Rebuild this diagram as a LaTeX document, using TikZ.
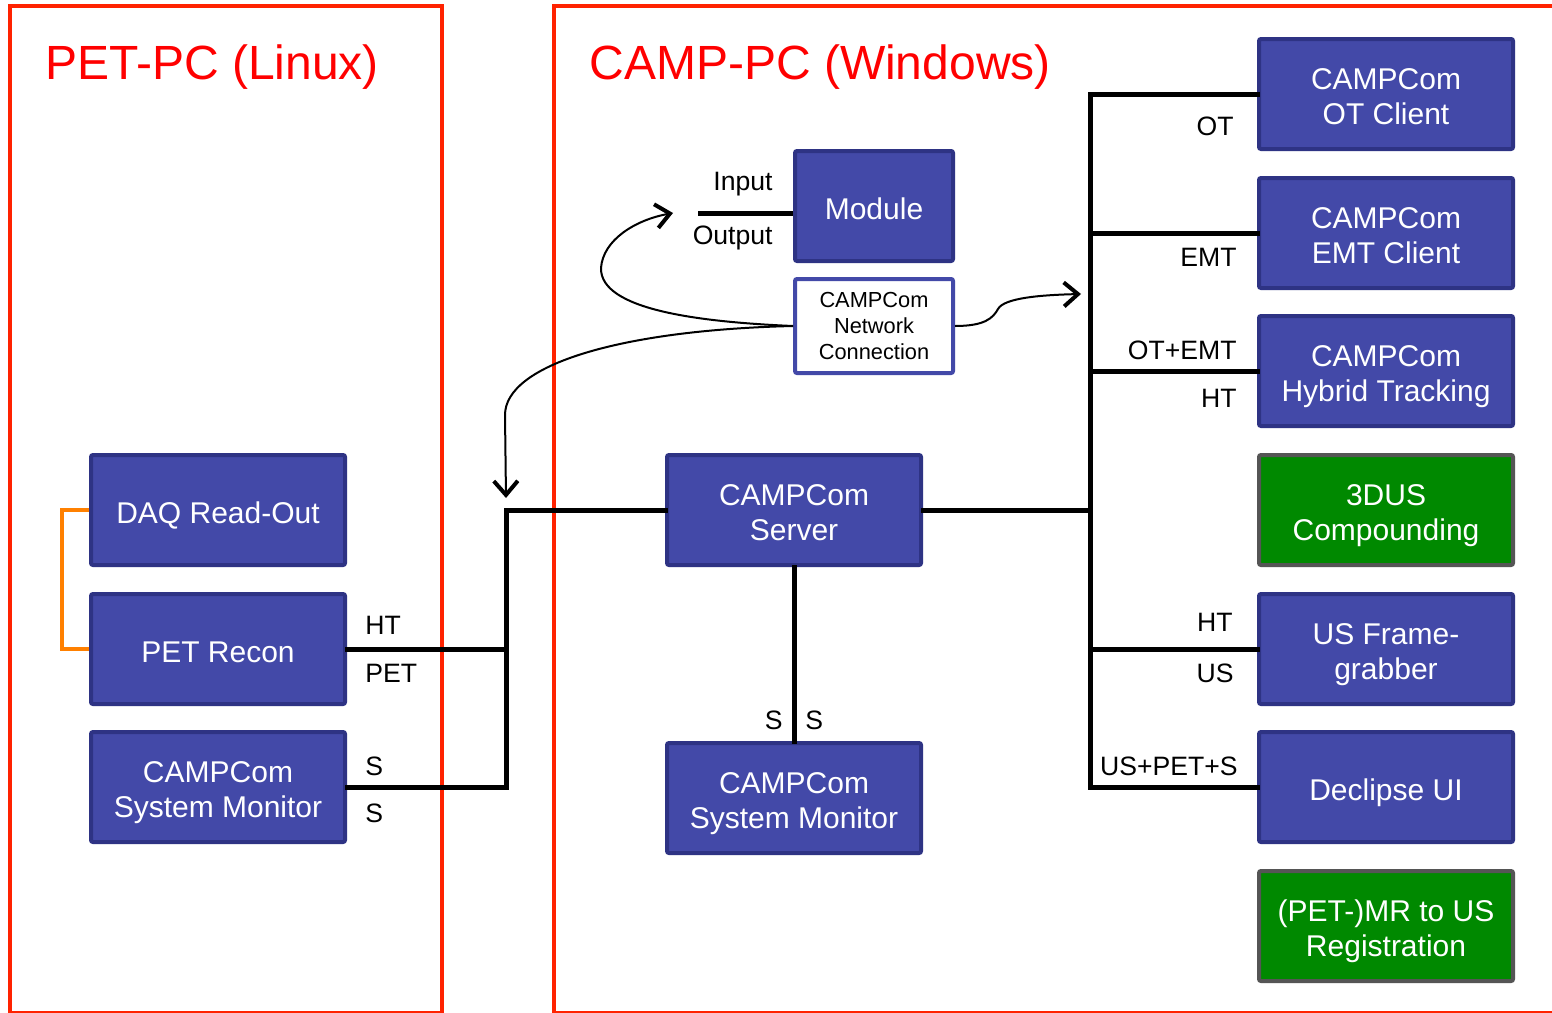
\documentclass[tikz,border=0pt]{standalone}
\usepackage{fontspec}
\setmainfont{Liberation Sans}
\usetikzlibrary{arrows.meta}
\definecolor{boxfill}{RGB}{67,73,168}
\definecolor{boxedge}{RGB}{46,51,132}
\definecolor{grnfill}{RGB}{0,137,0}
\definecolor{grnedge}{RGB}{85,85,85}
\definecolor{framered}{RGB}{255,34,0}
\definecolor{bracket}{RGB}{255,128,0}
\newcommand{\firstln}{\rule{0pt}{12.8pt}}
\tikzset{
  box/.style={draw=boxedge, fill=boxfill, line width=2pt, rounded corners=1pt,
    minimum width=127pt, minimum height=55pt, text=white, align=center, inner sep=0pt,
    font=\fontsize{15}{17.5}\selectfont, text depth=0pt,
    execute at begin node={\rule{0pt}{13pt}}},
  gbox/.style={box, draw=grnedge, fill=grnfill},
  netbox/.style={draw=boxfill, fill=white, line width=2pt, rounded corners=1pt,
    minimum width=79pt, minimum height=47pt, text=black, align=center, inner sep=0pt,
    font=\fontsize{10.9}{13}\selectfont, text depth=0pt,
    execute at begin node={\rule{0pt}{10pt}}},
  frame/.style={draw=framered, line width=2pt},
  bus/.style={line width=2.5pt, line cap=rect},
  lbl/.style={font=\fontsize{13.3}{15}\selectfont, inner sep=0pt},
  title/.style={font=\fontsize{24}{28}\selectfont, text=red, inner sep=0pt, anchor=west},
  curvy/.style={line width=1pt, -{Straight Barb[length=7pt,width=12pt,line width=2pt]}},
}
\begin{document}
\begin{tikzpicture}[x=0.5pt,y=-0.5pt]
\useasboundingbox (0,0) rectangle (1552,1012);
\fill[white] (0,0) rectangle (1552,1012);
% frames
\draw[frame] (10,6) rectangle (442,1013);
\draw[frame] (554,6) rectangle (1600,1013);
\node[title] (t1) at (45,67) {PET-PC (Linux)};
\node[title] (t2) at (589,67) {CAMP-PC (Windows)};

% left nodes
\node[box] (daq) at (218,510) {DAQ Read-Out};
\node[box] (pet) at (218,649) {PET Recon};
\node[box] (smL) at (218,787) {\firstln CAMPCom\\System Monitor};
% middle
\node[box, minimum width=79pt] (mod) at (874,206) {Module};
\node[netbox] (net) at (874,326) {CAMPCom\\Network\\Connection};
\node[box] (srv) at (794,510) {\firstln CAMPCom\\Server};
\node[box] (smM) at (794,798) {\firstln CAMPCom\\System Monitor};
% right
\node[box] (ot) at (1386,94) {\firstln CAMPCom\\OT Client};
\node[box] (emt) at (1386,233) {\firstln CAMPCom\\EMT Client};
\node[box] (hyb) at (1386,371) {\firstln CAMPCom\\Hybrid Tracking};
\node[gbox] (us3) at (1386,510) {\firstln 3DUS\\Compounding};
\node[box] (fg) at (1386,649) {\firstln US Frame-\\grabber};
\node[box] (dec) at (1386,787) {Declipse UI};
\node[gbox] (reg) at (1386,926) {\firstln (PET-)MR to US\\Registration};

% coordinates
\coordinate (lb1) at (506,510);
\coordinate (lb2) at (506,649);
\coordinate (lb3) at (506,787);
\coordinate (rb0) at (1090,94);
\coordinate (rb1) at (1090,233);
\coordinate (rb2) at (1090,371);
\coordinate (rb3) at (1090,510);
\coordinate (rb4) at (1090,649);
\coordinate (rb5) at (1090,787);
\coordinate (modin) at (698,213);
\coordinate (arr1) at (673,213);
\coordinate (arr2) at (506,498);
\coordinate (arr3) at (1081,294);

% orange bracket
\draw[bracket, line width=2pt] (daq.west) -- ++(-27,0) |- (pet.west);

% left bus
\draw[bus] (srv.west) -- (lb1) -- (lb3) -- (smL.east);
\draw[bus] (pet.east) -- (lb2);
% server to monitor
\draw[bus] (srv.south) -- (smM.north);
% right bus
\draw[bus] (srv.east) -- (rb3);
\draw[bus] (ot.west |- rb0) -- (rb0) -- (rb5) -- (dec.west |- rb5);
\draw[bus] (rb1) -- (emt.west |- rb1);
\draw[bus] (rb2) -- (hyb.west |- rb2);
\draw[bus] (rb4) -- (fg.west |- rb4);
% module input line
\draw[line width=2.5pt] (modin) -- (mod.west |- modin);

% curved arrows
\draw[curvy] (net.west) .. controls (700,322) and (600,310) .. (601,268)
   .. controls (603,240) and (635,220) .. (arr1);
\draw[curvy] (net.west) .. controls (620,330) and (505,365) .. (505,415) -- (arr2);
\draw[curvy] (net.east) .. controls (985,326) and (993,318) .. (998,309)
   .. controls (1004,298) and (1040,295) .. (arr3);

% labels
\node[lbl, anchor=west] (lHT) at (365,625) {HT};
\node[lbl, anchor=west] (lPET) at (365,673) {PET};
\node[lbl, anchor=west] (lS1) at (365,766) {S};
\node[lbl, anchor=west] (lS2) at (365,813) {S};
\node[lbl, anchor=east] (mS1) at (783,720) {S};
\node[lbl, anchor=west] (mS2) at (805,720) {S};
\node[lbl, anchor=east] (inp) at (773,184) {Input};
\node[lbl, anchor=east] (outp) at (773,238) {Output};
\node[lbl, anchor=east] (rOT) at (1234,126) {OT};
\node[lbl, anchor=east] (rEMT) at (1237,257) {EMT};
\node[lbl, anchor=east] (rOE) at (1237,350) {OT+EMT};
\node[lbl, anchor=east] (rHT) at (1237,398) {HT};
\node[lbl, anchor=east] (rHT2) at (1233,622) {HT};
\node[lbl, anchor=east] (rUS) at (1234,673) {US};
\node[lbl, anchor=east] (rUPS) at (1238,766) {US+PET+S};
\end{tikzpicture}
\end{document}
